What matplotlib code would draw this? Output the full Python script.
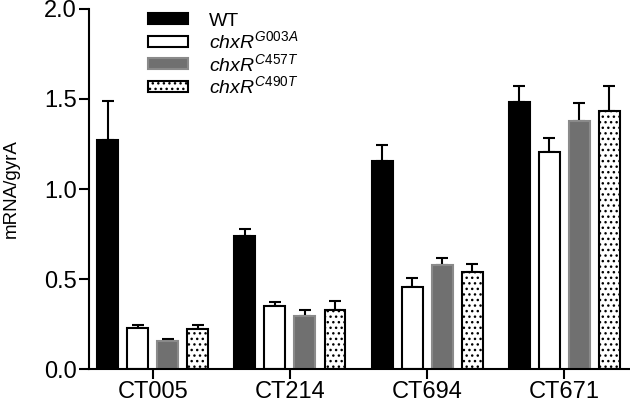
import numpy as np
import matplotlib.pyplot as plt

plt.rcParams['font.family'] = ['Liberation Sans', 'DejaVu Sans']
plt.rcParams['mathtext.fontset'] = 'custom'
plt.rcParams['mathtext.it'] = 'Liberation Sans:italic'
plt.rcParams['mathtext.rm'] = 'Liberation Sans'
plt.rcParams['hatch.linewidth'] = 1.0

# data
genes = ['CT005', 'CT214', 'CT694', 'CT671']
strains = ['WT', r'$chxR^{\mathit{G003A}}$', r'$chxR^{\mathit{C457T}}$', r'$chxR^{\mathit{C490T}}$']
means = {
    'WT':    [1.27, 0.74, 1.155, 1.485],
    'G003A': [0.231, 0.35, 0.457, 1.207],
    'C457T': [0.156, 0.294, 0.578, 1.38],
    'C490T': [0.222, 0.331, 0.541, 1.435],
}
errs = {
    'WT':    [0.22, 0.036, 0.089, 0.087],
    'G003A': [0.012, 0.024, 0.047, 0.078],
    'C457T': [0.009, 0.036, 0.037, 0.096],
    'C490T': [0.022, 0.047, 0.042, 0.137],
}

faces = ['black', 'white', '#707070', 'white']
edges = ['black', 'black', '#8a8a8a', 'black']
hatches = [None, None, None, '...']

fig = plt.figure(figsize=(6.3, 4.03), dpi=100)
ax = fig.add_axes([0.141, 0.084, 0.859, 0.894])

x = np.arange(len(genes))
pitch = 0.219
width = 0.153
for i, key in enumerate(means):
    pos = x + (i - 1.5) * pitch
    ax.bar(pos, means[key], width, color=faces[i], edgecolor=edges[i],
           linewidth=1.5, hatch=hatches[i], label=strains[i], zorder=2)
    ax.errorbar(pos, means[key], yerr=[np.zeros(4), errs[key]], fmt='none',
                ecolor='black', elinewidth=1.5, capsize=4.3, capthick=1.5, zorder=1)

ax.set_xlim(-0.467, 3.48)
ax.set_ylim(0, 2.0)
ax.set_yticks([0, 0.5, 1.0, 1.5, 2.0])
ax.set_yticklabels(['0.0', '0.5', '1.0', '1.5', '2.0'])
ax.set_xticks(x)
ax.set_xticklabels(genes)
ax.tick_params(axis='both', labelsize=17, width=1.5, length=7, direction='out', pad=1.5)
ax.set_ylabel('mRNA/gyrA', fontsize=13.5)
ax.yaxis.set_label_coords(-0.128, 0.5)

for s in ['top', 'right']:
    ax.spines[s].set_visible(False)
ax.spines['left'].set_linewidth(1.5)
ax.spines['bottom'].set_linewidth(1.5)

leg = ax.legend(loc='upper left', bbox_to_anchor=(0.095, 1.011), frameon=False,
                fontsize=14, handlelength=2.05, handleheight=0.52, borderaxespad=0,
                labelspacing=0.03, handletextpad=1.1)

plt.savefig('out.png', dpi=100)
